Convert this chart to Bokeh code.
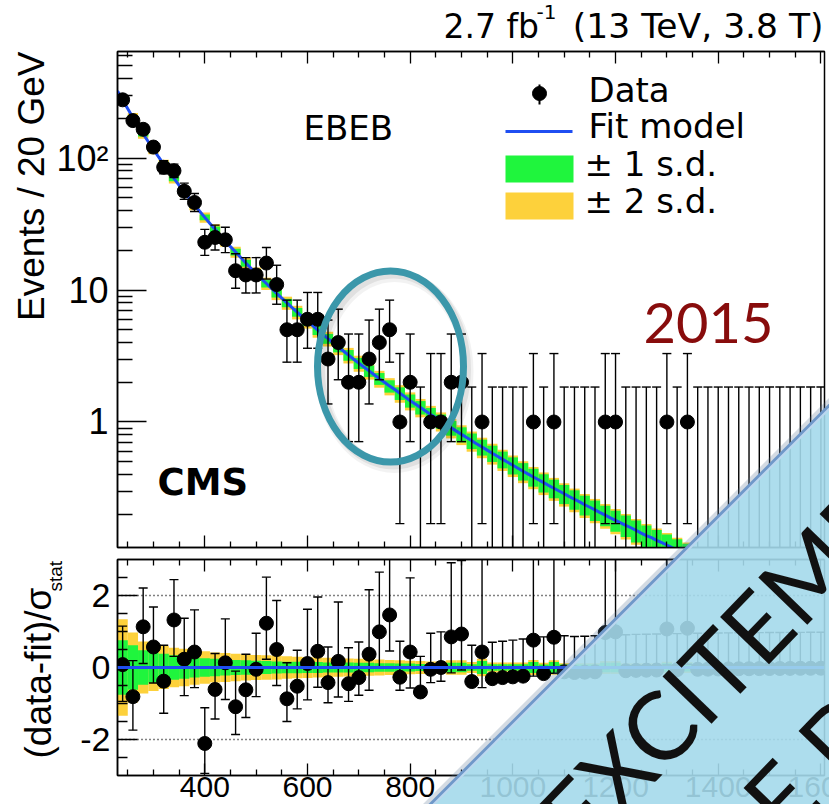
import math
from bokeh.plotting import figure
from bokeh.models import Range1d, FixedTicker, CustomJSTickFormatter, Label, LinearAxis, Span
from bokeh.layouts import column
from bokeh.core.properties import value
from bokeh.embed import file_html
from bokeh.resources import INLINE

# ---------------------------------------------------------------------------
# Diphoton mass spectrum, barrel-barrel (EBEB) category, 20 GeV bins from 230 GeV
# ---------------------------------------------------------------------------
MASS_START = 230
BIN_WIDTH = 20

events = [276, 192, 165, 121, 85, 80, 56, 46, 23, 25,
          24, 14, 13, 13, 16, 11, 5, 5, 6, 6,
          3, 4, 2, 2, 3, 4, 5, 1, 2, 0,
          1, 1, 2, 2, 0, 1, 0, 0, 0, 0,
          1, 0, 1, 0, 0, 0, 0, 1, 1, 0,
          0, 0, 0, 1, 0, 1, 0, 0, 0, 0,
          0, 0, 0, 0, 0, 0, 0, 0, 0]

# 68% Poisson interval of each bin (lower / upper end of the error bar)
events_low = [259.5, 178.2, 152.3, 110.1, 75.9, 71.2, 48.6, 39.3, 18.3, 20.1,
              19.2, 10.3, 9.5, 9.5, 12.1, 7.8, 2.84, 2.84, 3.62, 3.62,
              1.37, 2.09, 0.71, 0.71, 1.37, 2.09, 2.84, 0.17, 0.71, 0,
              0.17, 0.17, 0.71, 0.71, 0, 0.17, 0, 0, 0, 0,
              0.17, 0, 0.17, 0, 0, 0, 0, 0.17, 0.17, 0,
              0, 0, 0, 0.17, 0, 0.17, 0, 0, 0, 0,
              0, 0, 0, 0, 0, 0, 0, 0, 0]
events_high = [293.6, 206.9, 178.8, 133.0, 95.2, 89.9, 64.5, 53.8, 28.8, 31.0,
               29.9, 18.8, 17.6, 17.6, 21.0, 15.4, 8.38, 8.38, 9.58, 9.58,
               5.92, 7.16, 4.64, 4.64, 5.92, 7.16, 8.38, 3.30, 4.64, 1.84,
               3.30, 3.30, 4.64, 4.64, 1.84, 3.30, 1.84, 1.84, 1.84, 1.84,
               3.30, 1.84, 3.30, 1.84, 1.84, 1.84, 1.84, 3.30, 3.30, 1.84,
               1.84, 1.84, 1.84, 3.30, 1.84, 3.30, 1.84, 1.84, 1.84, 1.84,
               1.84, 1.84, 1.84, 1.84, 1.84, 1.84, 1.84, 1.84, 1.84]

# fit model evaluated every 10 GeV from 230 to 1340 GeV (events / 20 GeV)
fit_mass = list(range(230, 1341, 10))
fit_events = [322.4, 275.1, 235.7, 203.0, 175.5, 152.3, 132.7, 116.1, 101.8, 89.6,
              79.1, 70.0, 62.1, 55.3, 49.3, 44.1, 39.5, 35.5, 31.9, 28.8,
              26.0, 23.5, 21.3, 19.4, 17.6, 16.0, 14.6, 13.4, 12.2, 11.2,
              10.27, 9.43, 8.67, 7.99, 7.36, 6.79, 6.27, 5.80, 5.37, 4.97,
              4.61, 4.28, 3.98, 3.70, 3.45, 3.21, 2.99, 2.79, 2.61, 2.44,
              2.28, 2.13, 2.00, 1.87, 1.76, 1.65, 1.55, 1.45, 1.37, 1.29,
              1.21, 1.14, 1.075, 1.014, 0.956, 0.903, 0.853, 0.806, 0.762, 0.721,
              0.682, 0.646, 0.612, 0.580, 0.550, 0.521, 0.495, 0.470, 0.446, 0.424,
              0.403, 0.383, 0.365, 0.347, 0.330, 0.315, 0.300, 0.286, 0.272, 0.260,
              0.248, 0.236, 0.226, 0.216, 0.206, 0.197, 0.188, 0.180, 0.172, 0.165,
              0.158, 0.151, 0.144, 0.138, 0.133, 0.127, 0.122, 0.117, 0.112, 0.1075,
              0.1032, 0.099]

# relative half-width of the fit uncertainty bands per bin (upper panel)
band1_rel = [0.042, 0.042, 0.043, 0.044, 0.045, 0.046, 0.047, 0.049, 0.051, 0.053,
             0.055, 0.058, 0.061, 0.064, 0.067, 0.070, 0.073, 0.076, 0.079, 0.082,
             0.086, 0.089, 0.093, 0.096, 0.100, 0.103, 0.107, 0.110, 0.114, 0.117,
             0.121, 0.124, 0.128, 0.131, 0.135, 0.138, 0.141, 0.145, 0.148, 0.151,
             0.155, 0.158, 0.161, 0.165, 0.168, 0.172, 0.175, 0.178, 0.182, 0.185,
             0.189, 0.192, 0.196, 0.199, 0.203, 0.206]
band2_rel = [0.080, 0.080, 0.081, 0.082, 0.083, 0.084, 0.085, 0.087, 0.089, 0.091,
             0.094, 0.097, 0.100, 0.104, 0.107, 0.111, 0.114, 0.118, 0.121, 0.125,
             0.128, 0.132, 0.135, 0.139, 0.142, 0.146, 0.149, 0.152, 0.156, 0.159,
             0.162, 0.165, 0.168, 0.171, 0.174, 0.177, 0.180, 0.183, 0.186, 0.189,
             0.192, 0.195, 0.198, 0.201, 0.204, 0.207, 0.210, 0.213, 0.216, 0.219,
             0.222, 0.225, 0.228, 0.231, 0.234, 0.237]

# (data - fit) / sigma_stat per bin, with the ends of its error bar
pull = [0.08, -0.81, 1.13, 0.57, -0.38, 1.32, 0.23, 0.43, -2.11, -0.61,
        0.13, -1.09, -0.62, -0.05, 1.23, 0.50, -0.87, -0.52, 0.11, 0.45,
        -0.42, 0.17, -0.45, -0.28, 0.37, 0.99, 1.46, -0.27, 0.43, -0.68,
        -0.05, 0.00, 0.85, 0.93, -0.39, 0.43, -0.31, -0.28, -0.26, -0.24,
        0.76, -0.17, 0.84, -0.12, -0.14, -0.13, -0.12, 0.97, 0.99, -0.09,
        -0.08, -0.075, -0.07, 1.07, -0.06, 1.09, -0.05, -0.046, -0.042, -0.039,
        -0.036, -0.034, -0.031, -0.029, -0.027, -0.025, -0.023, -0.022, -0.020]
pull_high = [1.15, 0.19, 2.21, 1.68, 0.62, 2.44, 1.37, 1.60, -1.12, 0.39,
             1.35, -0.10, 0.37, 0.95, 2.51, 1.86, 0.13, 0.48, 1.62, 1.96,
             0.57, 1.82, 0.55, 0.71, 2.16, 2.65, 3.50, 0.73, 2.49, 0.31,
             0.95, 0.99, 2.91, 2.97, 0.62, 3.20, 0.70, 0.73, 0.76, 0.79,
             3.50, 0.85, 3.60, 0.88, 0.86, 0.87, 0.88, 3.75, 3.77, 0.91,
             0.92, 0.925, 0.93, 3.85, 0.94, 3.87, 0.95, 0.954, 0.958, 0.961,
             0.964, 0.966, 0.969, 0.971, 0.973, 0.975, 0.977, 0.978, 0.980]
pull_low = [-0.94, -1.74, 0.11, -0.43, -1.27, 0.31, -0.78, -0.56, -2.94, -1.43,
            -0.89, -1.86, -1.39, -0.81, 0.23, -0.50, -1.50, -1.15, -0.90, -0.55,
            -0.98, -0.82, -0.94, -0.77, -0.63, -0.01, 0.46, -0.63, -0.57, -0.68,
            -0.42, -0.38, -0.15, -0.07, -0.39, -0.56, -0.31, -0.28, -0.26, -0.24,
            -0.24, -0.17, -0.16, -0.12, -0.14, -0.13, -0.12, -0.03, -0.01, -0.09,
            -0.08, -0.075, -0.07, 0.07, -0.06, 0.09, -0.05, -0.046, -0.042, -0.039,
            -0.036, -0.034, -0.031, -0.029, -0.027, -0.025, -0.023, -0.022, -0.020]

# fit uncertainty bands in units of sigma_stat (lower panel)
band1_pull = [0.76, 0.62, 0.48, 0.42, 0.38, 0.34, 0.31, 0.28, 0.26, 0.24,
              0.22, 0.21, 0.20, 0.19, 0.18, 0.17, 0.16, 0.16, 0.15, 0.15,
              0.14, 0.14, 0.14, 0.13, 0.13, 0.12, 0.12, 0.11, 0.11, 0.10,
              0.10, 0.10, 0.13, 0.13, 0.09, 0.18, 0.09, 0.09, 0.09, 0.09,
              0.15, 0.08, 0.15, 0.08, 0.08, 0.08, 0.08, 0.13, 0.13, 0.07,
              0.07, 0.07, 0.07, 0.12, 0.07, 0.11, 0.06, 0.06, 0.06, 0.06,
              0.06, 0.06, 0.06, 0.06, 0.06, 0.06, 0.06, 0.06, 0.06]
band2_pull = [1.34, 0.97, 0.72, 0.65, 0.60, 0.55, 0.52, 0.48, 0.45, 0.42,
              0.40, 0.38, 0.36, 0.35, 0.34, 0.33, 0.31, 0.30, 0.29, 0.28,
              0.27, 0.26, 0.25, 0.24, 0.23, 0.22, 0.21, 0.20, 0.19, 0.18,
              0.17, 0.17, 0.20, 0.20, 0.15, 0.24, 0.14, 0.14, 0.14, 0.14,
              0.21, 0.13, 0.20, 0.12, 0.12, 0.12, 0.12, 0.18, 0.18, 0.11,
              0.11, 0.11, 0.11, 0.16, 0.10, 0.15, 0.09, 0.09, 0.09, 0.09,
              0.09, 0.09, 0.09, 0.09, 0.09, 0.09, 0.09, 0.09, 0.09]

x_major_ticks = [400, 600, 800, 1000, 1200, 1400, 1600]
legend_labels = ["Data", "Fit model", "\u00b1 1 s.d.", "\u00b1 2 s.d."]

# ---------------------------------------------------------------------------
# layout geometry (pixels) and colours
# ---------------------------------------------------------------------------
W = 829
TOP_H, BOT_H = 553, 251
H = TOP_H + BOT_H
FRAME_L, FRAME_R = 117, 824
TOP_T, TOP_B = 51, 547
BOT_T, BOT_B = 559, 775
X_RANGE = (230, 1607)
TOP_Y = (0.112, 641.0)
BOT_Y = (-3.0, 3.0)
# text anchors are given as alphabetic baselines; the renderer sits text this
# fraction of the font size lower, so anchors are raised by the same amount
BASE_SHIFT = 0.36

GREEN = "#1ff53d"
YELLOW = "#fdd13b"
BLUE = "#1f4ef2"
TEAL = "#3b97aa"
SANS = "Liberation Sans"
WIDE = "DejaVu Sans"


def px_to_x(px):
    return X_RANGE[0] + (px - FRAME_L) * (X_RANGE[1] - X_RANGE[0]) / (FRAME_R - FRAME_L)


def x_to_px(x):
    return FRAME_L + (x - X_RANGE[0]) * (FRAME_R - FRAME_L) / (X_RANGE[1] - X_RANGE[0])


def py_to_top(py):
    lo, hi = math.log10(TOP_Y[0]), math.log10(TOP_Y[1])
    return 10 ** (hi - (py - TOP_T) * (hi - lo) / (TOP_B - TOP_T))


n_bins = len(events)
lefts = [MASS_START + BIN_WIDTH * i for i in range(n_bins)]
rights = [l + BIN_WIDTH for l in lefts]
centres = [l + BIN_WIDTH / 2 for l in lefts]
minor_x = [m for m in range(250, 1601, 50) if m not in x_major_ticks]
blank = CustomJSTickFormatter(code="return '';")


def style_axis(ax, major_in, minor_in, label_size=None, standoff=0):
    ax.major_tick_in = major_in
    ax.major_tick_out = 0
    ax.minor_tick_in = minor_in
    ax.minor_tick_out = 0
    ax.major_tick_line_width = 1.3
    ax.minor_tick_line_width = 1.3
    ax.axis_line_width = 1.5
    ax.axis_line_color = "black"
    ax.major_tick_line_color = "black"
    ax.minor_tick_line_color = "black"
    if label_size is None:
        ax.formatter = blank
        ax.major_label_text_font_size = "2px"
        ax.major_label_standoff = 0
    else:
        ax.major_label_text_font = SANS
        ax.major_label_text_font_size = label_size
        ax.major_label_text_color = "black"
        ax.major_label_standoff = standoff


# ---------------------------------------------------------------------------
# upper panel: event yields with fit
# ---------------------------------------------------------------------------
top = figure(width=W, height=TOP_H, x_range=Range1d(*X_RANGE), y_range=Range1d(*TOP_Y),
             y_axis_type="log", output_backend="svg", toolbar_location=None,
             min_border_left=FRAME_L, min_border_right=W - FRAME_R,
             min_border_top=TOP_T, min_border_bottom=TOP_H - TOP_B,
             outline_line_color="black", outline_line_width=1.5)
top.grid.visible = False

top.xaxis[0].ticker = FixedTicker(ticks=x_major_ticks, minor_ticks=minor_x)
style_axis(top.xaxis[0], 12, 6)
top_above = LinearAxis(ticker=FixedTicker(ticks=x_major_ticks, minor_ticks=minor_x))
style_axis(top_above, 12, 6)
top.add_layout(top_above, "above")

log_minor = [k * 10.0 ** e for e in (-1, 0, 1, 2) for k in range(2, 10)]
ya = top.yaxis[0]
ya.ticker = FixedTicker(ticks=[1, 10, 100], minor_ticks=log_minor)
ya.formatter = CustomJSTickFormatter(code="""
    const v = Math.round(tick);
    return v >= 100 ? "10\\u00b2" : String(v);
""")
style_axis(ya, 29, 15, "36px", 9)

n_band = len(band1_rel)
fit_centre = fit_events[1::2][:n_band]
top.quad(left=lefts[:n_band], right=rights[:n_band],
         bottom=[f * (1 - r) for f, r in zip(fit_centre, band2_rel)],
         top=[f * (1 + r) for f, r in zip(fit_centre, band2_rel)],
         fill_color=YELLOW, line_color=None)
top.quad(left=lefts[:n_band], right=rights[:n_band],
         bottom=[f * (1 - r) for f, r in zip(fit_centre, band1_rel)],
         top=[f * (1 + r) for f, r in zip(fit_centre, band1_rel)],
         fill_color=GREEN, line_color=None)
top.line(fit_mass, fit_events, line_color=BLUE, line_width=3)

floor = TOP_Y[0] * 0.3
top.segment(x0=centres, x1=centres, y0=[max(v, floor) for v in events_low], y1=events_high,
            line_color="black", line_width=1.4)
top.scatter(centres, events_high, marker="dash", size=9, line_color="black", line_width=1.4)
low_caps = [(c, v) for c, v in zip(centres, events_low) if v > 0]
top.scatter([c for c, _ in low_caps], [v for _, v in low_caps], marker="dash", size=9,
            line_color="black", line_width=1.4)
filled = [(c, n) for c, n in zip(centres, events) if n > 0]
top.scatter([c for c, _ in filled], [n for _, n in filled], size=14, color="black")

# highlight ring round the 750 GeV region, with a soft shadow
for dx, dy, lw, a in ((4, 5, 12, 0.05), (3, 3, 9, 0.07)):
    top.ellipse(x=[px_to_x(390 + dx)], y=[py_to_top(366 + dy)], width=146, height=191,
                width_units="screen", height_units="screen", fill_color=None,
                line_color="black", line_alpha=a, line_width=lw)
top.ellipse(x=[px_to_x(390)], y=[py_to_top(366)], width=146, height=191,
            width_units="screen", height_units="screen", fill_color=None,
            line_color=TEAL, line_width=7)

# legend
top.scatter([px_to_x(539)], [py_to_top(93)], size=14, color="black")
top.segment(x0=[px_to_x(539)], x1=[px_to_x(539)], y0=[py_to_top(104)], y1=[py_to_top(84)],
            line_color="black", line_width=2)
top.line([px_to_x(505), px_to_x(572)], [py_to_top(131), py_to_top(131)],
         line_color=BLUE, line_width=3)
top.quad(left=[px_to_x(505)], right=[px_to_x(573)], bottom=[py_to_top(182)], top=[py_to_top(155)],
         fill_color=GREEN, line_color=None)
top.quad(left=[px_to_x(505)], right=[px_to_x(573)], bottom=[py_to_top(219)], top=[py_to_top(192)],
         fill_color=YELLOW, line_color=None)


def top_text(text, px, py, size, **kw):
    kw.setdefault("text_font", SANS)
    kw.setdefault("text_color", "black")
    top.add_layout(Label(x=X_RANGE[0], y=TOP_Y[1], x_offset=px - FRAME_L,
                         y_offset=TOP_T - (py - BASE_SHIFT * size),
                         text=text, text_font_size=f"{size}px",
                         text_baseline="alphabetic", **kw))


for lab, (lx, ly) in zip(legend_labels, [(588, 102), (588, 138), (584, 176), (584, 213)]):
    top_text(lab, lx, ly, 34, text_font=WIDE)

top_text("EBEB", 303, 140, 34, text_font=WIDE)
top_text("CMS", 157, 495, 37, text_font=WIDE, text_font_style="bold")
top_text("2015", 643, 343, 56, text_font="Lato", text_color="#880c0c")

# ---------------------------------------------------------------------------
# lower panel: residuals in units of the statistical uncertainty
# ---------------------------------------------------------------------------
bot = figure(width=W, height=BOT_H, x_range=top.x_range, y_range=Range1d(*BOT_Y),
             output_backend="svg", toolbar_location=None,
             min_border_left=FRAME_L, min_border_right=W - FRAME_R,
             min_border_top=BOT_T - TOP_H, min_border_bottom=H - BOT_B,
             outline_line_color="black", outline_line_width=1.5)
bot.grid.visible = False
bot.xaxis[0].ticker = FixedTicker(ticks=x_major_ticks, minor_ticks=minor_x)
style_axis(bot.xaxis[0], 12, 6)
bot_above = LinearAxis(ticker=FixedTicker(ticks=x_major_ticks, minor_ticks=minor_x))
style_axis(bot_above, 12, 6)
bot.add_layout(bot_above, "above")
bot.yaxis[0].ticker = FixedTicker(ticks=[-2, 0, 2],
                                  minor_ticks=[-2.5, -1.5, -1, -0.5, 0.5, 1, 1.5, 2.5])
bot.yaxis[0].formatter = CustomJSTickFormatter(code="return String(Math.round(tick));")
style_axis(bot.yaxis[0], 20, 10, "34px", 7)

bot.quad(left=lefts, right=rights, bottom=[-w for w in band2_pull], top=band2_pull,
         fill_color=YELLOW, line_color=None)
bot.quad(left=lefts, right=rights, bottom=[-w for w in band1_pull], top=band1_pull,
         fill_color=GREEN, line_color=None)
bot.add_layout(Span(location=0, dimension="width", line_color=BLUE, line_width=3))
for lvl in (-2, 2):
    bot.add_layout(Span(location=lvl, dimension="width", line_color="black",
                        line_width=1.3, line_dash="1 3"))

bot.segment(x0=centres, x1=centres, y0=pull_low, y1=pull_high, line_color="black", line_width=1.4)
bot.scatter(centres, pull_high, marker="dash", size=9, line_color="black", line_width=1.4)
lo_caps = [(c, lo) for c, lo, pv in zip(centres, pull_low, pull) if lo < pv - 0.02]
bot.scatter([c for c, _ in lo_caps], [v for _, v in lo_caps], marker="dash", size=9,
            line_color="black", line_width=1.4)
bot.scatter(centres, pull, size=14, color="black")

# ---------------------------------------------------------------------------
# page-wide layer: titles, x tick labels and the corner banner
# ---------------------------------------------------------------------------
ov = figure(width=W, height=H, x_range=Range1d(0, W), y_range=Range1d(H, 0),
            x_axis_location=None, y_axis_location=None, output_backend="svg",
            toolbar_location=None, min_border=0, outline_line_color=None,
            background_fill_alpha=0, border_fill_alpha=0, frame_align=False)
ov.grid.visible = False
ov.styles = {"position": "absolute", "left": "0px", "top": "0px", "z-index": "10"}


def page_text(text, px, py, size, font=SANS, angle=0.0, **kw):
    kw.setdefault("text_color", "black")
    sx = px - BASE_SHIFT * size * math.sin(angle)
    sy = py - BASE_SHIFT * size * math.cos(angle)
    ov.text(x=[sx], y=[sy], text=[text], text_font=value(font), text_font_size=f"{size}px",
            text_baseline="alphabetic", angle=angle, **kw)


page_text("2.7 fb", 443, 38, 33, font=WIDE)
page_text("-1", 536, 19, 20, font=WIDE)
page_text("(13 TeV, 3.8 T)", 823, 38, 34.5, font=WIDE, text_align="right")
page_text("Events / 20 GeV", 44, 51, 37, angle=math.pi / 2, text_align="right")
page_text("(data-fit)/\u03c3", 51, 758, 37, angle=math.pi / 2)
page_text("stat", 62, 591, 19, angle=math.pi / 2)
for t in x_major_ticks:
    page_text(str(t), x_to_px(t), 797, 30, text_align="center")

ov.patch([840, 840, 419], [393, 815, 815], fill_color="#a4d9eb", fill_alpha=0.9, line_color=None)
ov.line([838, 417], [393, 814], line_color="#55708f", line_alpha=0.25, line_width=7)
ov.line([841, 420], [393, 814], line_color="#6f98c9", line_width=3.5)
ov.line([844, 423], [393, 814], line_color="#bcd7ef", line_width=2)
page_text("EXCITEMENT", 580, 855, 95, font="Lato", angle=math.radians(46), text_color="#111111")
page_text("E D", 784, 839, 95, font="Lato", angle=math.radians(46), text_color="#111111")

layout = column(top, bot, ov, width=W, height=H, spacing=0)
open("out.html", "w").write(file_html(layout, INLINE))
